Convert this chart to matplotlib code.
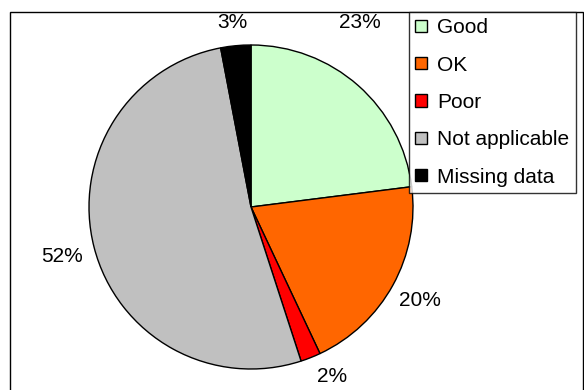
import matplotlib
matplotlib.use("Agg")
import matplotlib.pyplot as plt
from matplotlib.patches import Rectangle

categories = ["Good", "OK", "Poor", "Not applicable", "Missing data"]
shares = [23, 20, 2, 52, 3]
colors = ["#CCFFCC", "#FF6600", "#FF0000", "#C0C0C0", "#000000"]

plt.rcParams["font.family"] = ["Liberation Sans", "DejaVu Sans"]

W, H = 584, 390
fig = plt.figure(figsize=(W / 100, H / 100), dpi=100)
ax = fig.add_axes([0, 0, 1, 1])

wedges, texts, pcts = ax.pie(
    shares,
    colors=colors,
    startangle=90,
    counterclock=False,
    center=(251, H - 207),
    radius=162,
    autopct="%1.0f%%",
    pctdistance=1.15,
    wedgeprops=dict(edgecolor="black", linewidth=1.0),
    textprops=dict(fontsize=15, color="black"),
    frame=True,
)
ax.set_xlim(0, W)
ax.set_ylim(0, H)
ax.set_aspect("equal")
ax.axis("off")

# move the labels so they clear the legend and the lower edge
pcts[0].set_position((360, H - 22))
pcts[1].set_position((420, H - 300))
pcts[2].set_position((332, H - 377))
pcts[3].set_position((62, H - 257))
pcts[4].set_position((232, H - 22))

# outer chart frame
fig.patches.append(Rectangle((10 / W, -0.1), (583 - 10) / W, 1.1 - 12 / H,
                             transform=fig.transFigure, fill=False,
                             edgecolor="black", linewidth=1.0))

leg = fig.legend(wedges, categories, loc="upper left",
                 bbox_to_anchor=(409 / W, 1 - 12 / H), borderaxespad=0,
                 fontsize=15, frameon=True, fancybox=False, shadow=False,
                 handlelength=0.55, handleheight=0.55, handletextpad=0.5,
                 labelspacing=0.88, borderpad=0.3)
leg.get_frame().set_edgecolor("black")
leg.get_frame().set_linewidth(1.0)
for h in leg.legend_handles:
    h.set_edgecolor("black")
    h.set_linewidth(1.0)

fig.savefig("out.png", dpi=100)
